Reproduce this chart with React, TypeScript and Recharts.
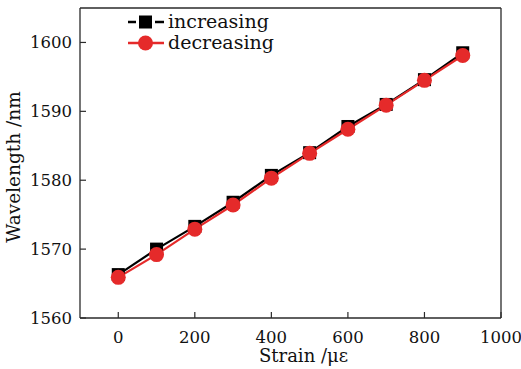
import React from "react";
import {
  LineChart,
  Line,
  XAxis,
  YAxis,
  ReferenceLine,
  Legend,
} from "recharts";

const strain = [0, 100, 200, 300, 400, 500, 600, 700, 800, 900];
const increasing = [1566.3, 1570.0, 1573.3, 1576.8, 1580.7, 1584.0, 1587.8, 1591.0, 1594.6, 1598.5];
const decreasing = [1565.9, 1569.2, 1572.9, 1576.4, 1580.3, 1583.9, 1587.4, 1590.9, 1594.5, 1598.1];
const xTicks = [0, 200, 400, 600, 800, 1000];
const yTicks = [1560, 1570, 1580, 1590, 1600];

const data = strain.map((s, i) => ({
  strain: s,
  increasing: increasing[i],
  decreasing: decreasing[i],
}));

const FONT = "'DejaVu Serif', serif";
const AXIS = "#2a2a2a";
const TEXT = "#111";
const RED = "#e52a2a";
const TICK_IN = 6;

const YTick = (props: any) => {
  const { x, y, payload } = props;
  return (
    <g>
      <line x1={x + 8} x2={x + 8 + TICK_IN} y1={y} y2={y} stroke={AXIS} strokeWidth={1.2} />
      <text x={x} y={y} dy={6} textAnchor="end" fontFamily={FONT} fontSize={16.5} fill={TEXT}>
        {payload.value}
      </text>
    </g>
  );
};

const XTick = (props: any) => {
  const { x, y, payload } = props;
  return (
    <g>
      <line x1={x} x2={x} y1={y - 12} y2={y - 12 - TICK_IN} stroke={AXIS} strokeWidth={1.2} />
      <text x={x} y={y} dy={13} textAnchor="middle" fontFamily={FONT} fontSize={16.5} fill={TEXT}>
        {payload.value}
      </text>
    </g>
  );
};

const LegendBox = () => (
  <div style={{ fontFamily: FONT, fontSize: 19, color: TEXT, lineHeight: "21px" }}>
    <div style={{ display: "flex", alignItems: "center", height: 21 }}>
      <svg width={36} height={16}>
        <line x1={0} x2={8} y1={8} y2={8} stroke="#000" strokeWidth={2.5} />
        <line x1={27} x2={36} y1={8} y2={8} stroke="#000" strokeWidth={2.5} />
        <rect x={11} y={1.5} width={13} height={13} fill="#000" />
      </svg>
      <span style={{ marginLeft: 4 }}>increasing</span>
    </div>
    <div style={{ display: "flex", alignItems: "center", height: 21 }}>
      <svg width={36} height={16}>
        <line x1={0} x2={36} y1={8} y2={8} stroke={RED} strokeWidth={2.5} />
        <circle cx={17.5} cy={8} r={7.5} fill={RED} />
      </svg>
      <span style={{ marginLeft: 4 }}>decreasing</span>
    </div>
  </div>
);

export default function App() {
  return (
    <div style={{ position: "absolute", left: 0, top: 0, background: "#fff" }}>
      <LineChart width={521} height={369} data={data} margin={{ top: 8, right: 20, bottom: 0, left: 0 }}>
        <XAxis
          dataKey="strain"
          type="number"
          domain={[-100, 1000]}
          ticks={xTicks}
          height={51}
          tickSize={0}
          tickMargin={12}
          tick={<XTick />}
          stroke={AXIS}
          strokeWidth={1.3}
          label={{
            value: "Strain /με",
            position: "insideBottom",
            offset: 7,
            dx: 13,
            style: { fontFamily: FONT, fontSize: 18, fill: TEXT },
          }}
        />
        <YAxis
          type="number"
          domain={[1560, 1605]}
          ticks={yTicks}
          width={80}
          tickSize={0}
          tickMargin={8}
          tick={<YTick />}
          stroke={AXIS}
          strokeWidth={1.3}
          label={{
            value: "Wavelength /nm",
            angle: -90,
            position: "insideLeft",
            offset: 13,
            dy: 4,
            style: { fontFamily: FONT, fontSize: 18.5, fill: TEXT, textAnchor: "middle" },
          }}
        />
        <ReferenceLine y={1605} stroke={AXIS} strokeWidth={1.3} />
        <ReferenceLine x={1000} stroke={AXIS} strokeWidth={1.3} />
        <Legend
          layout="vertical"
          align="center"
          verticalAlign="middle"
          wrapperStyle={{ left: 128, top: 11, width: "auto" }}
          content={() => <LegendBox />}
        />
        <Line
          dataKey="increasing"
          stroke="#000"
          strokeWidth={2.2}
          isAnimationActive={false}
          dot={(p: any) => (
            <rect key={`sq-${p.index}`} x={p.cx - 6.5} y={p.cy - 6.5} width={13} height={13} fill="#000" />
          )}
        />
        <Line
          dataKey="decreasing"
          stroke={RED}
          strokeWidth={2.2}
          isAnimationActive={false}
          dot={{ r: 7.5, fill: RED, stroke: "none", strokeWidth: 0 }}
        />
      </LineChart>
    </div>
  );
}
